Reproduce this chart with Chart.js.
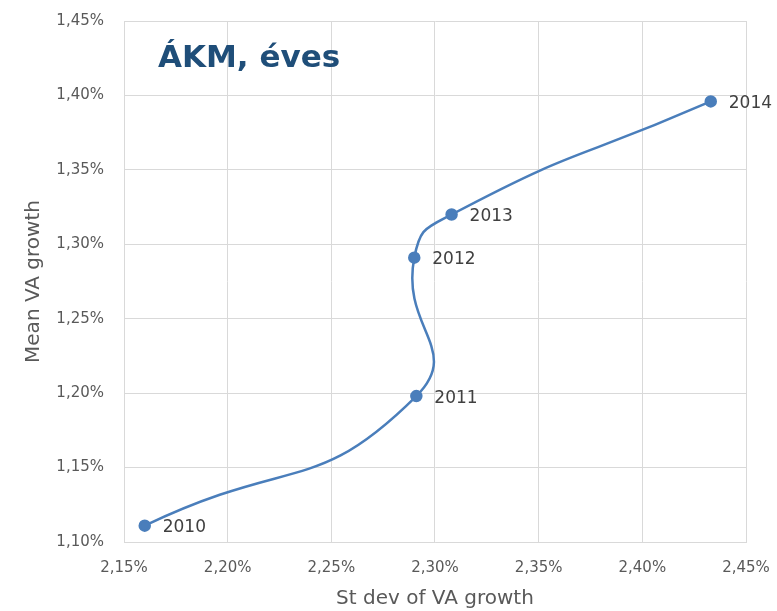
<!DOCTYPE html>
<html>
<head>
<meta charset="utf-8">
<script src="https://cdn.jsdelivr.net/npm/chart.js@4/dist/chart.umd.min.js"></script>
<style>
  html, body { margin: 0; padding: 0; background: #ffffff; }
  #wrap { position: relative; width: 777px; height: 611px; }
  #title { position: absolute; left: 158px; top: 38px; font-family: "DejaVu Sans", sans-serif; font-weight: bold; font-size: 31px; color: #1F4E79; white-space: nowrap; }
</style>
</head>
<body>
<div id="wrap">
  <canvas id="c" width="777" height="611"></canvas>
  <div id="title">ÁKM, éves</div>
</div>
<script>
const years = ["2010", "2011", "2012", "2013", "2014"];
const stdevVA = [2.160, 2.291, 2.290, 2.308, 2.433];
const meanVA = [1.111, 1.198, 1.291, 1.320, 1.396];
const xTicks = [2.15, 2.20, 2.25, 2.30, 2.35, 2.40, 2.45];
const yTicks = [1.10, 1.15, 1.20, 1.25, 1.30, 1.35, 1.40, 1.45];

const fmt = v => v.toFixed(2).replace('.', ',') + '%';
const tickFont = { family: '"DejaVu Sans", sans-serif', size: 15 };
const grey = '#595959';

const yearLabels = {
  id: 'yearLabels',
  afterDatasetsDraw(chart) {
    const ctx = chart.ctx;
    const meta = chart.getDatasetMeta(0);
    ctx.save();
    ctx.font = '17px "DejaVu Sans", sans-serif';
    ctx.fillStyle = '#404040';
    ctx.textAlign = 'left';
    ctx.textBaseline = 'middle';
    meta.data.forEach((pt, i) => {
      ctx.fillText(years[i], pt.x + 18, pt.y + 2);
    });
    ctx.restore();
  }
};

new Chart(document.getElementById('c'), {
  type: 'scatter',
  data: {
    datasets: [{
      data: stdevVA.map((x, i) => ({ x: x, y: meanVA[i] })),
      showLine: true,
      tension: 0.55,
      borderColor: '#4A7EBB',
      backgroundColor: '#4A7EBB',
      borderWidth: 2.5,
      pointRadius: 5,
      pointHoverRadius: 5
    }]
  },
  options: {
    responsive: false,
    animation: false,
    layout: { padding: { left: 22, right: 31, top: 21, bottom: 0 } },
    plugins: { legend: { display: false }, tooltip: { enabled: false } },
    scales: {
      x: {
        type: 'linear',
        min: 2.15, max: 2.45,
        afterBuildTicks: axis => { axis.ticks = xTicks.map(v => ({ value: v })); },
        afterFit: axis => { axis.height = 69; axis.paddingLeft = 0; axis.paddingRight = 0; },
        grid: { color: '#d9d9d9', lineWidth: 1, drawTicks: false },
        border: { color: '#d9d9d9', width: 1 },
        ticks: { font: tickFont, color: grey, padding: 17, maxRotation: 0, callback: v => fmt(v) },
        title: { display: true, text: 'St dev of VA growth', font: { family: '"DejaVu Sans", sans-serif', size: 20 }, color: grey, padding: { top: 0, bottom: 0 } }
      },
      y: {
        type: 'linear',
        min: 1.10, max: 1.45,
        afterBuildTicks: axis => { axis.ticks = yTicks.map(v => ({ value: v })); },
        afterFit: axis => { axis.width = 102; axis.paddingTop = 0; axis.paddingBottom = 0; },
        grid: { color: '#d9d9d9', lineWidth: 1, drawTicks: false },
        border: { color: '#d9d9d9', width: 1 },
        ticks: { font: tickFont, color: grey, padding: 20, callback: v => fmt(v) },
        title: { display: true, text: 'Mean VA growth', font: { family: '"DejaVu Sans", sans-serif', size: 20 }, color: grey, padding: { top: 0, bottom: 0 } }
      }
    }
  },
  plugins: [yearLabels]
});
</script>
</body>
</html>
